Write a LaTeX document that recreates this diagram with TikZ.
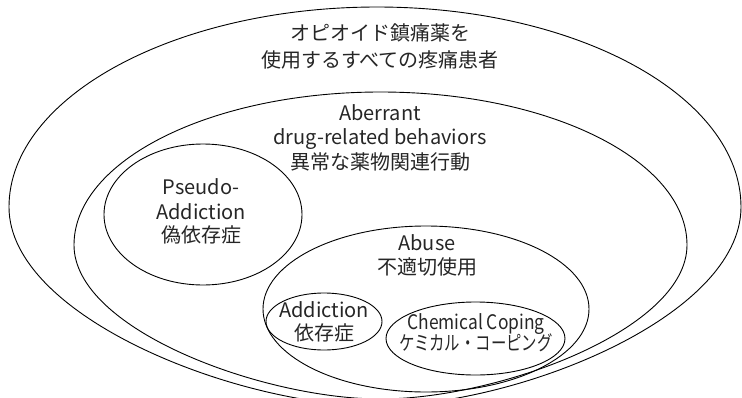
\documentclass[tikz,border=0pt]{standalone}
\usepackage{fontspec}
\setmainfont{Noto Sans CJK JP}
\usetikzlibrary{shapes.geometric}
\begin{document}
\begin{tikzpicture}[x=1pt,y=-1pt,
  egg/.style={draw=black, line width=0.9pt},
  ring/.style={ellipse, draw=black, line width=0.9pt, inner sep=0pt, outer sep=0pt},
  lbl/.style={anchor=base, inner sep=0pt, text=black!85, font=\fontsize{20}{24}\selectfont}]
\clip (0,0) rectangle (742,397);
% outer population (egg shape, bottom cut by the frame)
\draw[egg] (9,207) .. controls (9,96.5) and (176,7) .. (377,7)
  .. controls (578,7) and (741,96.5) .. (741,207)
  .. controls (741,317) and (517,406) .. (377,406)
  .. controls (237,406) and (9,317) .. (9,207);
% aberrant drug-related behaviors
\draw[egg] (74,245) .. controls (74,160.5) and (211,92) .. (380.5,92)
  .. controls (550,92) and (687,160.5) .. (687,245)
  .. controls (687,330) and (497.5,399) .. (380.5,399)
  .. controls (263.5,399) and (74,330) .. (74,245);
% inner sets
\node[ring, minimum width=198pt, minimum height=141pt] (pseudo) at (203,214.5) {};
\node[ring, minimum width=326pt, minimum height=166pt] (abuse) at (426,309) {};
\node[ring, minimum width=116pt, minimum height=57pt] (addiction) at (324,321.5) {};
\node[ring, minimum width=179pt, minimum height=73pt] (coping) at (475.5,338.5) {};
% labels
\node[lbl] (t1) at (380,40) {オピオイド鎮痛薬を};
\node[lbl] (t2) at (380,67) {使用するすべての疼痛患者};
\node[lbl] (a1) at (380,120) {Aberrant};
\node[lbl] (a2) at (380,144) {drug-related behaviors};
\node[lbl] (a3) at (380,169) {異常な薬物関連行動};
\node[lbl] (p1) at (201,194) {Pseudo-};
\node[lbl] (p2) at (201,219) {Addiction};
\node[lbl] (p3) at (201,242) {偽依存症};
\node[lbl] (b1) at (427,250) {Abuse};
\node[lbl] (b2) at (427,274) {不適切使用};
\node[lbl] (d1) at (324,317) {Addiction};
\node[lbl] (d2) at (324,340) {依存症};
\node[lbl] (c1) at (476,329) {\scalebox{0.87}[1]{Chemical Coping}};
\node[lbl] (c2) at (476,350) {\scalebox{0.77}[1]{ケミカル・コーピング}};
\end{tikzpicture}
\end{document}
